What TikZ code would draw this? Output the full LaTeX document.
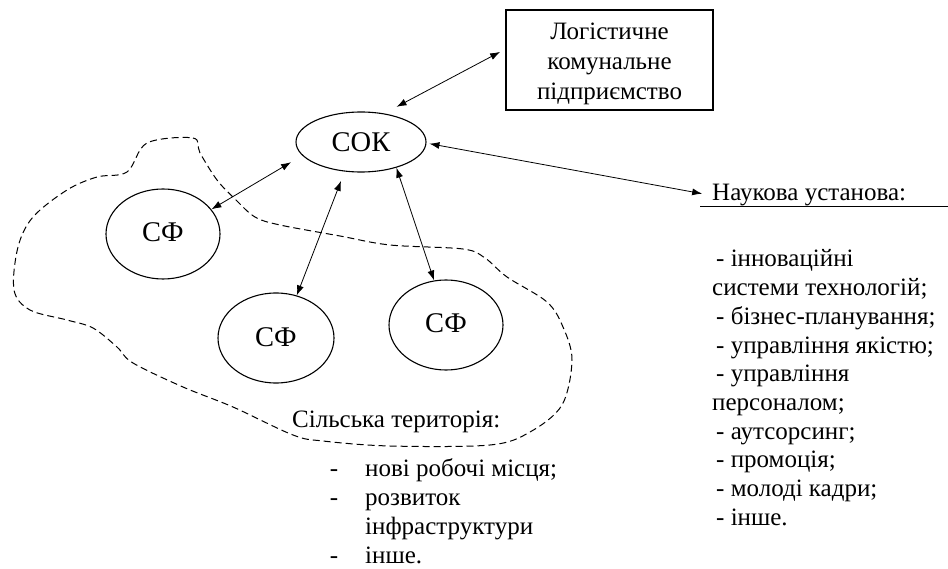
\documentclass[tikz,border=0pt]{standalone}
\usepackage{fontspec}
\setmainfont{LiberationSerif}[Extension=.ttf,UprightFont=*-Regular,BoldFont=*-Bold]
\usetikzlibrary{shapes.geometric,arrows.meta,calc}
\begin{document}
\begin{tikzpicture}[x=1pt,y=-1pt,
  bub/.style={draw,ellipse,line width=1.1pt,inner sep=0pt,font=\fontsize{28.5}{30}\selectfont},
  biarrow/.style={line width=0.8pt,{Latex[length=10pt,width=7pt]}-{Latex[length=10pt,width=7pt]}},
  txt/.style={inner sep=0pt,font=\fontsize{25}{29}\selectfont},
  blob/.style={line width=1pt,dash pattern=on 7pt off 4pt}]
\useasboundingbox (0,0) rectangle (948,569);

% dashed territory outline
\draw[blob] plot[smooth cycle, tension=0.55] coordinates {
  (147,143) (193,138) (200,153) (217,180) (235,199) (255,217) (280,225)
  (340,236) (390,245) (463,249) (485,258) (507,277) (547,302) (563,327)
  (572,360) (562,405) (530,432) (490,445) (390,446) (323,441) (293,435)
  (233,407) (183,387) (133,363) (117,347) (93,328) (67,320) (30,310)
  (14,290) (18,247) (33,217) (67,190) (97,177) (127,172)};

% nodes
\node[bub,minimum width=130pt,minimum height=60pt] (sok) at (361,142) {СОК};
\node[bub,minimum width=114pt,minimum height=90pt] (sf1) at (163,234) {\raisebox{4pt}{СФ}};
\node[bub,minimum width=116pt,minimum height=90pt] (sf2) at (276,338) {\raisebox{2pt}{СФ}};
\node[bub,minimum width=114pt,minimum height=90pt] (sf3) at (446,325) {\raisebox{4pt}{СФ}};
\node[draw,line width=1.1pt,minimum width=207pt,minimum height=100pt,inner sep=0pt] (box) at (609.5,60) {};
\node[txt,anchor=base] (b1) at (609.5,40) {Логістичне};
\node[txt,anchor=base] (b2) at (609.5,70) {комунальне};
\node[txt,anchor=base] (b3) at (609.5,100) {підприємство};

\node[txt,anchor=base west] (nauk) at (712,201) {Наукова установа:};
\draw[line width=0.9pt] (700,206) -- (948,206);

\node[txt,anchor=base west] (silt) at (292,427) {Сільська територія:};

% right list
\foreach \ind/\t [count=\i] in {
  1/- інноваційні,
  0/системи технологій;,
  1/- бізнес-планування;,
  1/- управління якістю;,
  1/- управління,
  0/персоналом;,
  1/- аутсорсинг;,
  1/- промоція;,
  1/- молоді кадри;,
  1/- інше.}
  \node[txt,anchor=base west] (r\i) at ({712+4*\ind},{267+28.7*(\i-1)}) {\t};

% bottom list
\node[txt,anchor=base] (d1) at (334,476) {-};
\node[txt,anchor=base west] (l1) at (365,476) {нові робочі місця;};
\node[txt,anchor=base] (d2) at (334,505) {-};
\node[txt,anchor=base west] (l2) at (365,505) {розвиток};
\node[txt,anchor=base west] (l3) at (365,534) {інфраструктури};
\node[txt,anchor=base] (d3) at (334,563) {-};
\node[txt,anchor=base west] (l4) at (365,563) {інше.};

% connectors
\draw[biarrow,shorten >=13pt] (sf1.27) -- (sok.193);
\draw[biarrow,shorten <=10pt] (sok.241) -- (sf2.64);
\draw[biarrow] (sok.324) -- (sf3.105);
\draw[biarrow,shorten <=14pt,shorten >=6pt] (sok.51.5) -- (box.174.5);
\draw[biarrow,shorten <=3pt,shorten >=10pt] (sok.-1) -- (nauk.west);
\end{tikzpicture}
\end{document}
